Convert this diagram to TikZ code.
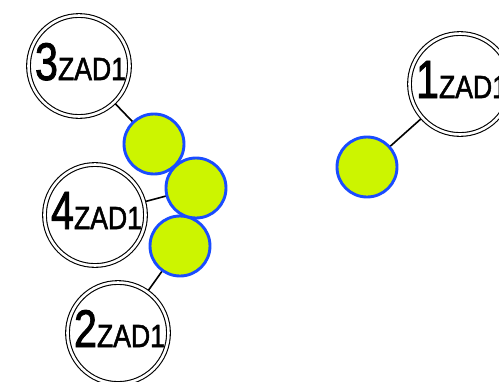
\documentclass[tikz,border=0pt]{standalone}
\usepackage{fontspec}
\setmainfont{Liberation Sans}
\newfontfamily\zadfont[FakeBold=1.8]{Liberation Sans}
\usetikzlibrary{backgrounds}
\definecolor{lime}{HTML}{CCF500}
\definecolor{rimblue}{HTML}{1A4CFF}
\newcommand{\zadlabel}[1]{\zadfont\resizebox{23pt}{37pt}{#1}\resizebox{68pt}{22pt}{ZAD1}}
\tikzset{
  zad/.style={circle, draw=black, line width=1.1pt, double=white, double distance=2.6pt, fill=white, minimum size=101pt, inner sep=0pt},
  dot/.style={circle, draw=rimblue, line width=2.9pt, fill=lime, minimum size=60pt, inner sep=0pt},
  link/.style={draw=black, line width=1.6pt},
  zadtext/.style={anchor=base, inner sep=0pt}
}
\begin{document}
\begin{tikzpicture}[x=1pt,y=-1pt]
\useasboundingbox (0,0) rectangle (499,381);
\node[zad] (z3) at (79,66) {};
\node[zad] (z4) at (95,215) {};
\node[zad] (z2) at (118,333) {};
\node[zad] (z1) at (460,84) {};
\node[zadtext] (t3) at (80.5,80) {\zadlabel{3}};
\node[zadtext] (t4) at (96.5,229) {\zadlabel{4}};
\node[zadtext] (t2) at (119.5,347) {\zadlabel{2}};
\node[zadtext] (t1) at (461.5,98) {\zadlabel{1}};
\node[dot] (g1) at (154,144) {};
\node[dot] (g3) at (180,246) {};
\node[dot] (g2) at (196,188) {};
\node[dot] (g4) at (367,167) {};
\begin{scope}[on background layer]
\draw[link] (z3.center) -- (g1.center);
\draw[link] (z4.center) -- (g2.center);
\draw[link] (z2.center) -- (g3.center);
\draw[link] (z1.center) -- (g4.center);
\end{scope}
\end{tikzpicture}
\end{document}
